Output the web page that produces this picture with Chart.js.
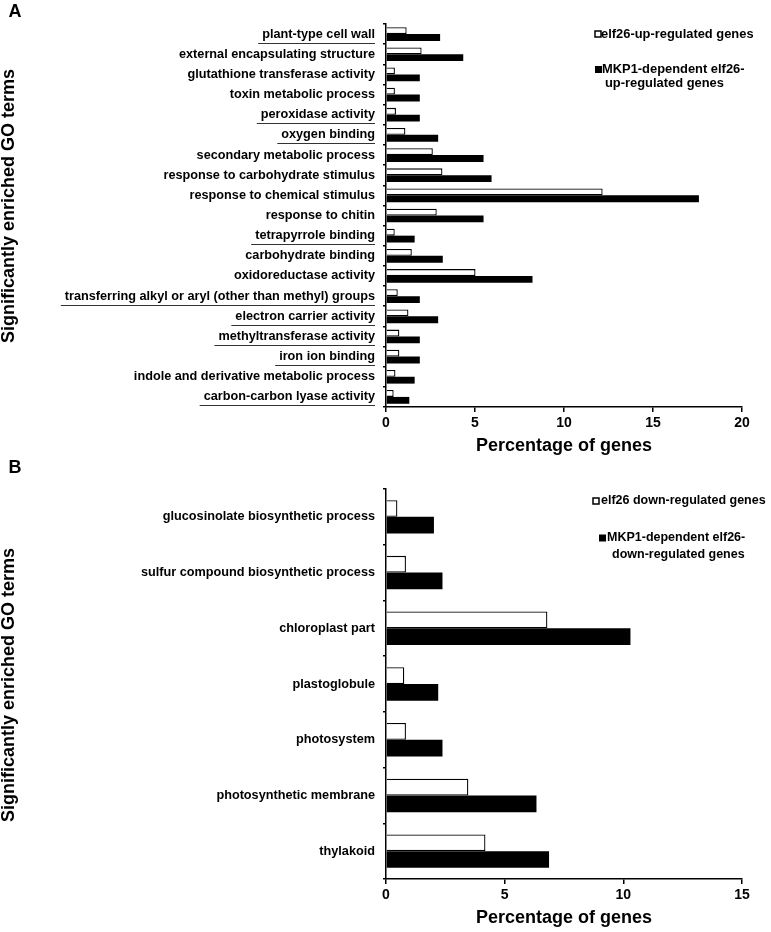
<!DOCTYPE html>
<html>
<head>
<meta charset="utf-8">
<script src="https://cdn.jsdelivr.net/npm/chart.js@4.4.0/dist/chart.umd.min.js"></script>
<style>
  body { margin: 0; background: #fff; }
  .panel { position: absolute; left: 0; width: 771px; }
  #panel-a { top: 0; height: 460px; }
  #panel-b { top: 455px; height: 477px; }
</style>
</head>
<body>
<div class="panel" id="panel-a"><canvas id="chart-a"></canvas></div>
<div class="panel" id="panel-b"><canvas id="chart-b"></canvas></div>
<script>
// --< Data >--
const upTerms = [
  "plant-type cell wall",
  "external encapsulating structure",
  "glutathione transferase activity",
  "toxin metabolic process",
  "peroxidase activity",
  "oxygen binding",
  "secondary metabolic process",
  "response to carbohydrate stimulus",
  "response to chemical stimulus",
  "response to chitin",
  "tetrapyrrole binding",
  "carbohydrate binding",
  "oxidoreductase activity",
  "transferring alkyl or aryl (other than methyl) groups",
  "electron carrier activity",
  "methyltransferase activity",
  "iron ion binding",
  "indole and derivative metabolic process",
  "carbon-carbon lyase activity"
];
const upAll = [1.16, 2.0, 0.5, 0.5, 0.56, 1.09, 2.63, 3.17, 12.17, 2.85, 0.49, 1.45, 5.03, 0.66, 1.26, 0.75, 0.75, 0.53, 0.43];
const upMkp1 = [3.04, 4.34, 1.9, 1.9, 1.9, 2.93, 5.48, 5.93, 17.58, 5.48, 1.61, 3.19, 8.23, 1.9, 2.93, 1.9, 1.9, 1.61, 1.31];
const upUnderlined = [
  "plant-type cell wall", "peroxidase activity", "oxygen binding", "tetrapyrrole binding",
  "transferring alkyl or aryl (other than methyl) groups", "electron carrier activity",
  "methyltransferase activity", "iron ion binding", "carbon-carbon lyase activity"
];

const downTerms = [
  "glucosinolate biosynthetic process",
  "sulfur compound biosynthetic process",
  "chloroplast part",
  "plastoglobule",
  "photosystem",
  "photosynthetic membrane",
  "thylakoid"
];
const downAll = [0.48, 0.84, 6.8, 0.77, 0.84, 3.47, 4.19];
const downMkp1 = [2.02, 2.38, 10.3, 2.2, 2.38, 6.34, 6.87];

const upLegend = ["elf26-up-regulated genes", "MKP1-dependent elf26-", "up-regulated genes"];
const downLegend = ["elf26 down-regulated genes", "MKP1-dependent elf26-", "down-regulated genes"];
// --</ Data >--

const FONT = "'Liberation Sans', Arial, sans-serif";
Chart.defaults.font.family = FONT;
Chart.defaults.color = "#000";

// draws panel letter, rotated y title, legend and underlines
const decorPlugin = {
  id: "decor",
  afterDraw(chart, args, o) {
    const ctx = chart.ctx;
    ctx.save();
    ctx.fillStyle = "#000";

    // panel letter
    ctx.font = `bold 18px ${FONT}`;
    ctx.textAlign = "center";
    ctx.textBaseline = "middle";
    ctx.fillText(o.letter, 15, o.letterY);

    // y axis title
    ctx.save();
    ctx.translate(9, o.titleY);
    ctx.rotate(-Math.PI / 2);
    ctx.font = `bold 18px ${FONT}`;
    ctx.fillText("Significantly enriched GO terms", 0, 0);
    ctx.restore();

    // legend
    const lg = o.legend;
    ctx.font = `bold ${lg.font}px ${FONT}`;
    ctx.textAlign = "left";
    ctx.fillStyle = "#fff";
    ctx.fillRect(lg.sq1, lg.y1 - 3, 6, 6);
    ctx.strokeStyle = "#000";
    ctx.lineWidth = 1.5;
    ctx.strokeRect(lg.sq1, lg.y1 - 3, 6, 6);
    ctx.fillStyle = "#000";
    ctx.fillText(o.legendText[0], lg.tx1, lg.y1);
    ctx.fillRect(lg.sq2, lg.y2 - 3.5, 7, 7);
    ctx.fillText(o.legendText[1], lg.tx2, lg.y2);
    ctx.fillText(o.legendText[2], lg.tx3, lg.y3);

    // underlined terms
    if (o.underlined) {
      const y = chart.scales.y;
      ctx.font = `bold 12.7px ${FONT}`;
      ctx.strokeStyle = "#333";
      ctx.lineWidth = 1.2;
      y.getLabels().forEach((lab, i) => {
        if (!o.underlined.includes(lab)) return;
        const w = ctx.measureText(lab).width;
        const py = Math.round(y.getPixelForValue(i) + 8.5) + 0.5;
        ctx.beginPath();
        ctx.moveTo(375 - w - 4, py);
        ctx.lineTo(375, py);
        ctx.stroke();
      });
    }
    ctx.restore();
  }
};

function makePanel(id, terms, all, mkp1, xMax, catPct, topPad, decor) {
  return new Chart(document.getElementById(id), {
    type: "bar",
    data: {
      labels: terms,
      datasets: [
        { label: decor.legendText[0], data: all, backgroundColor: "#fff", borderColor: "#000", borderWidth: 1.3 },
        { label: decor.legendText[1], data: mkp1, backgroundColor: "#000", borderColor: "#000", borderWidth: 0 }
      ]
    },
    options: {
      indexAxis: "y",
      responsive: true,
      maintainAspectRatio: false,
      animation: false,
      layout: { padding: { left: 0, right: 29, top: topPad, bottom: 0 } },
      datasets: { bar: { categoryPercentage: catPct, barPercentage: 1.0 } },
      plugins: {
        legend: { display: false },
        tooltip: { enabled: false },
        decor: decor
      },
      scales: {
        x: {
          min: 0,
          max: xMax,
          afterFit: (s) => { s.height = 53; },
          border: { color: "#000", width: 1.5 },
          grid: { drawOnChartArea: false, drawTicks: true, tickLength: 5, color: "#000", lineWidth: 1.5 },
          ticks: { stepSize: 5, padding: 3, font: { size: 14, weight: "bold" }, color: "#000" },
          title: {
            display: true,
            text: "Percentage of genes",
            font: { size: 18, weight: "bold" },
            color: "#000",
            padding: { top: 0, bottom: 3 }
          }
        },
        y: {
          afterFit: (s) => { s.width = 386; },
          border: { color: "#000", width: 1.5 },
          grid: { drawOnChartArea: false, drawTicks: true, tickLength: 3, color: "#000", lineWidth: 1.5 },
          ticks: { autoSkip: false, padding: 8, font: { size: 12.7, weight: "bold" }, color: "#000" }
        }
      }
    },
    plugins: [decorPlugin]
  });
}

makePanel("chart-a", upTerms, upAll, upMkp1, 20, 0.68, 24, {
  letter: "A", letterY: 12, titleY: 206,
  legendText: upLegend,
  legend: { font: 12.9, sq1: 595, y1: 34, tx1: 601, sq2: 595, y2: 69.5, tx2: 602, tx3: 605, y3: 83 },
  underlined: upUnderlined
});

makePanel("chart-b", downTerms, downAll, downMkp1, 15, 0.6, 34, {
  letter: "B", letterY: 13, titleY: 230,
  legendText: downLegend,
  legend: { font: 12.5, sq1: 593, y1: 46, tx1: 601, sq2: 599, y2: 83, tx2: 607, tx3: 612, y3: 100 },
  underlined: null
});
</script>
</body>
</html>
